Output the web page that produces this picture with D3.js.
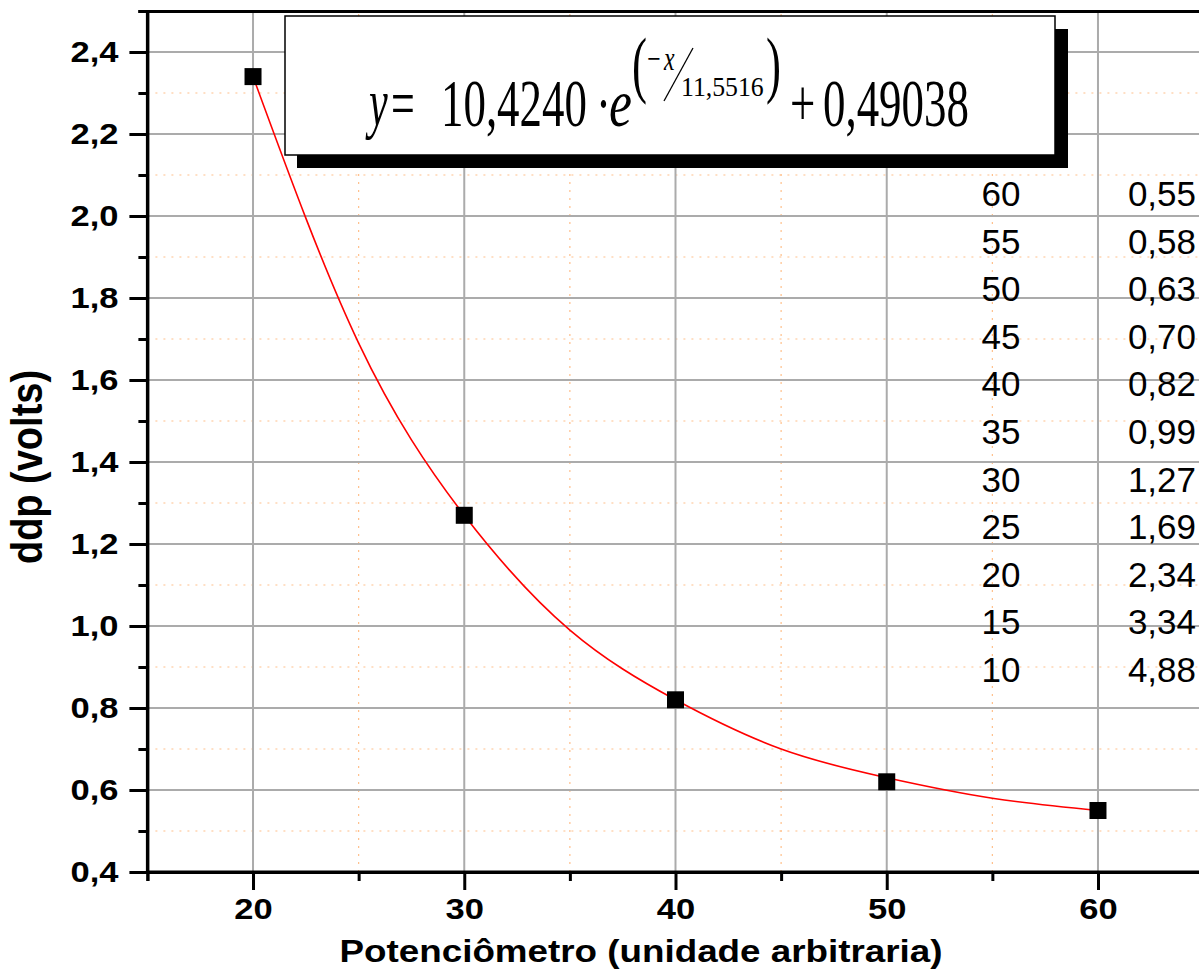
<!DOCTYPE html>
<html>
<head>
<meta charset="utf-8">
<script src="https://cdn.jsdelivr.net/npm/d3@7"></script>
<style>
  body { margin: 0; background: #fff; }
  svg { display: block; }
</style>
</head>
<body>
<div id="chart"></div>
<script>
// pontos medidos
var pontosX = [20, 30, 40, 50, 60];
var pontosY = [2.34, 1.27, 0.82, 0.62, 0.55];

// tabela (valores do ajuste)
var tabelaX = [60, 55, 50, 45, 40, 35, 30, 25, 20, 15, 10];
var tabelaY = [0.55, 0.58, 0.63, 0.70, 0.82, 0.99, 1.27, 1.69, 2.34, 3.34, 4.88];

var xTicks = [20, 30, 40, 50, 60];
var xMinor = [15, 25, 35, 45, 55, 65];
var yTicks = [0.4, 0.6, 0.8, 1.0, 1.2, 1.4, 1.6, 1.8, 2.0, 2.2, 2.4];
var yMinor = [0.5, 0.7, 0.9, 1.1, 1.3, 1.5, 1.7, 1.9, 2.1, 2.3, 2.5];

var W = 1199, H = 972;
var sx = 1.15; // texto levemente esticado na horizontal

var x = d3.scaleLinear().domain([15, 65]).range([147.4, 1203.6]);
var y = d3.scaleLinear().domain([0.4, 2.5]).range([872, 11]);

var virgula = function(f) {
	return function(d) { return d3.format(f)(d).replace(".", ","); };
};

var svg = d3.select("#chart")
	.append("svg")
	.attr("width", W)
	.attr("height", H)
	.style("font-family", "'Liberation Sans', Arial, sans-serif");

// grade
var grade = svg.append("g");
grade.selectAll("line.vmin")
	.data(xMinor.filter(function(d) { return d > 15 && d < 65; }))
	.enter().append("line")
	.attr("x1", function(d) { return x(d); })
	.attr("x2", function(d) { return x(d); })
	.attr("y1", y(0.4)).attr("y2", y(2.5))
	.attr("stroke", "#ffbf8a").attr("stroke-width", 1.2)
	.attr("stroke-dasharray", "2,6");
grade.selectAll("line.hmin")
	.data(yMinor.filter(function(d) { return d < 2.5; }))
	.enter().append("line")
	.attr("y1", function(d) { return y(d); })
	.attr("y2", function(d) { return y(d); })
	.attr("x1", x(15)).attr("x2", x(65))
	.attr("stroke", "#ffbf8a").attr("stroke-width", 1.2)
	.attr("stroke-dasharray", "2,6");
grade.selectAll("line.vmaj")
	.data(xTicks)
	.enter().append("line")
	.attr("x1", function(d) { return x(d); })
	.attr("x2", function(d) { return x(d); })
	.attr("y1", y(0.4)).attr("y2", y(2.5))
	.attr("stroke", "#ababab").attr("stroke-width", 2);
grade.selectAll("line.hmaj")
	.data(yTicks.slice(1))
	.enter().append("line")
	.attr("y1", function(d) { return y(d); })
	.attr("y2", function(d) { return y(d); })
	.attr("x1", x(15)).attr("x2", x(65))
	.attr("stroke", "#ababab").attr("stroke-width", 2);

// curva de ajuste (pontos da tabela entre 20 e 60)
var ajuste = tabelaX.map(function(d, i) { return [d, tabelaY[i]]; })
	.filter(function(d) { return d[0] >= 20 && d[0] <= 60; })
	.sort(function(a, b) { return a[0] - b[0]; });

svg.append("path")
	.datum(ajuste)
	.attr("fill", "none")
	.attr("stroke", "#ff0000")
	.attr("stroke-width", 1.6)
	.attr("d", d3.line()
		.x(function(d) { return x(d[0]); })
		.y(function(d) { return y(d[1]); })
		.curve(d3.curveNatural));

// pontos
svg.selectAll("rect.ponto")
	.data(pontosX)
	.enter().append("rect")
	.attr("x", function(d) { return x(d) - 8.5; })
	.attr("y", function(d, i) { return y(pontosY[i]) - 8.5; })
	.attr("width", 17)
	.attr("height", 17)
	.attr("fill", "#000");

// eixos
var eixoX = svg.append("g")
	.attr("transform", "translate(0," + y(0.4) + ")")
	.call(d3.axisBottom(x).tickValues(xTicks).tickSize(18).tickPadding(8).tickFormat(d3.format("d")));
var eixoXmin = svg.append("g")
	.attr("transform", "translate(0," + y(0.4) + ")")
	.call(d3.axisBottom(x).tickValues(xMinor).tickSize(9).tickFormat(""));
var eixoY = svg.append("g")
	.attr("transform", "translate(" + x(15) + ",0)")
	.call(d3.axisLeft(y).tickValues(yTicks).tickSize(18).tickFormat(virgula(".1f")));
var eixoYmin = svg.append("g")
	.attr("transform", "translate(" + x(15) + ",0)")
	.call(d3.axisLeft(y).tickValues(yMinor).tickSize(9).tickFormat(""));
var eixoTopo = svg.append("g")
	.call(d3.axisTop(x).tickValues([]).tickSizeOuter(0))
	.attr("transform", "translate(0," + y(2.5) + ")");

[eixoX, eixoXmin, eixoY, eixoYmin, eixoTopo].forEach(function(g) {
	g.selectAll("path.domain").attr("stroke", "#000").attr("stroke-width", 3);
	g.selectAll(".tick line").attr("stroke", "#000").attr("stroke-width", 3);
});
eixoY.select("path.domain").attr("d", "M0," + y(2.5) + "V" + y(0.4));
eixoX.select("path.domain").attr("d", "M" + x(15) + ",0H" + x(65));

eixoX.selectAll("text")
	.attr("font-size", 30).attr("font-weight", "bold").attr("fill", "#000")
	.attr("transform", "scale(" + sx + ",1)");
eixoY.selectAll("text")
	.attr("font-size", 30).attr("font-weight", "bold").attr("fill", "#000")
	.attr("x", -29 / sx)
	.attr("transform", "scale(" + sx + ",1)");

// títulos
svg.append("text")
	.attr("transform", "translate(641,962) scale(" + sx + ",1)")
	.attr("text-anchor", "middle")
	.attr("font-size", 32)
	.attr("font-weight", "bold")
	.text("Potenciômetro (unidade arbitraria)");

svg.append("text")
	.attr("transform", "translate(42,467) scale(" + sx + ",1) rotate(-90)")
	.attr("text-anchor", "middle")
	.attr("font-size", 38)
	.attr("font-weight", "bold")
	.text("ddp (volts)");

// tabela
var tabela = svg.append("g").attr("font-size", 35).attr("fill", "#000");
tabela.selectAll("text.c1")
	.data(tabelaX)
	.enter().append("text")
	.attr("x", 1001)
	.attr("y", function(d, i) { return 206 + i * 47.6; })
	.attr("text-anchor", "middle")
	.text(function(d) { return d; });
tabela.selectAll("text.c2")
	.data(tabelaY)
	.enter().append("text")
	.attr("x", 1196)
	.attr("y", function(d, i) { return 206 + i * 47.6; })
	.attr("text-anchor", "end")
	.text(virgula(".2f"));

// caixa da equação
var caixa = svg.append("g");
caixa.append("rect")
	.attr("x", 297).attr("y", 29).attr("width", 771).attr("height", 139)
	.attr("fill", "#000");
caixa.append("rect")
	.attr("x", 285).attr("y", 16).attr("width", 770).attr("height", 139)
	.attr("fill", "#fff").attr("stroke", "#000").attr("stroke-width", 1.5);

var serif = "'Liberation Serif', 'Times New Roman', serif";
function eq(px, py, str, size, esc, italico) {
	caixa.append("text")
		.attr("transform", "translate(" + px + "," + py + ") scale(" + esc + ",1)")
		.attr("font-family", serif)
		.attr("font-size", size)
		.attr("font-style", italico ? "italic" : "normal")
		.text(str);
}
eq(369, 126, "y", 68, 0.62, true);
eq(391, 126, "=", 68, 0.62, false);
eq(441, 126, "10,4240", 68, 0.66, false);
eq(596, 126, "\u00b7", 68, 0.66, false);
eq(609, 126, "e", 68, 0.76, true);
eq(632, 89, "(", 75, 0.6, false);
eq(647, 70, "\u2212", 34, 0.7, false);
eq(664, 70, "x", 34, 0.7, true);
caixa.append("line")
	.attr("x1", 693).attr("y1", 48).attr("x2", 664).attr("y2", 101)
	.attr("stroke", "#000").attr("stroke-width", 1.3);
eq(681, 96, "11,5516", 28, 0.92, false);
eq(766, 89, ")", 75, 0.6, false);
eq(790, 126, "+", 68, 0.66, false);
eq(823, 126, "0,49038", 68, 0.66, false);
</script>
</body>
</html>
